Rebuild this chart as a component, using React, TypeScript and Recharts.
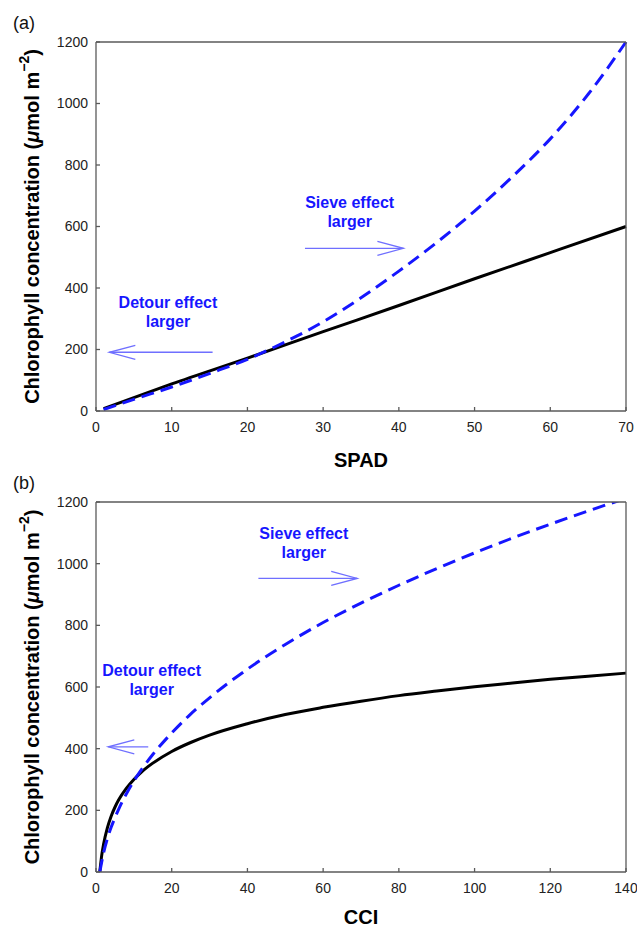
import React from 'react'
import { LineChart, Line, XAxis, YAxis, ReferenceLine, ReferenceDot, Label } from 'recharts'

const FONT = '"Liberation Sans", Arial, Helvetica, sans-serif'
const BLUE = '#1616ff'
const ARROW = '#6f6fff'
const AXIS = '#5a5a5a'

// shared y scale
const chlTicks = [0, 200, 400, 600, 800, 1000, 1200]

// (a) SPAD
const spadTicks = [0, 10, 20, 30, 40, 50, 60, 70]
const spadX = [1, 10, 20, 30, 40, 50, 60, 70]
const spadChl = [8, 88, 172, 258, 343, 430, 515, 600]
const spadBlueX = [1, 5, 10, 15, 20, 25, 30, 35, 40, 45, 50, 55, 60, 65, 70]
const spadBlueChl = [5, 38, 78, 122, 168, 225, 290, 368, 455, 548, 650, 762, 885, 1030, 1200]

// (b) CCI
const cciTicks = [0, 20, 40, 60, 80, 100, 120, 140]
const cciX = [1, 1.5, 2, 3, 4, 5, 6, 8, 10, 12, 15, 20, 25, 30, 40, 50, 60, 70, 80, 90, 100, 110, 120, 130, 140]
const cciChl = [0, 53, 90, 143, 181, 210, 234, 271, 300, 324, 353, 391, 420, 444, 481, 511, 534, 554, 572, 587, 601, 613, 625, 635, 645]
const cciBlueX = [1, 2, 3, 4, 5, 6, 8, 10, 12, 15, 20, 25, 30, 40, 50, 60, 70, 80, 90, 100, 110, 120, 130, 140]
const cciBlueChl = [0, 62, 108, 145, 176, 204, 253, 295, 332, 381, 451, 512, 565, 658, 738, 809, 872, 930, 984, 1035, 1083, 1128, 1171, 1212]

const zip = (xs: number[], ys: number[]) => xs.map((x, i) => ({ x, y: ys[i] }))

const arrowShape = (p: any) => {
  const { x1, y1, x2, y2 } = p
  const dir = x2 > x1 ? 1 : -1
  return (
    <g stroke={ARROW} strokeWidth={1.3} fill="none">
      <line x1={x1} y1={y1} x2={x2} y2={y2} />
      <polyline points={`${x2 - dir * 26},${y2 - 7} ${x2},${y2} ${x2 - dir * 26},${y2 + 7}`} />
    </g>
  )
}

const note = (first: string) => (p: any) => (
  <text x={p.cx} y={p.cy} textAnchor="middle" fontFamily={FONT} fontSize={16} fontWeight="bold" fill={BLUE}>
    <tspan x={p.cx} dy={-3}>{first}</tspan>
    <tspan x={p.cx} dy={19}>larger</tspan>
  </text>
)

const YTitle = ({ viewBox }: any) => {
  const cy = viewBox.y + viewBox.height / 2
  return (
    <text
      x={32}
      y={cy}
      transform={`rotate(-90 32 ${cy})`}
      textAnchor="middle"
      dominantBaseline="central"
      fontFamily={FONT}
      fontSize={20}
      fontWeight="bold"
      fill="#000"
    >
      Chlorophyll concentration (<tspan fontStyle="italic">μ</tspan>mol m
      <tspan dy={-8} fontSize={14}>−2</tspan>
      <tspan dy={8}>)</tspan>
    </text>
  )
}

interface PanelProps {
  height: number
  top: number
  bottom: number
  titleOffset: number
  xTicks: number[]
  xTitle: string
  black: { x: number; y: number }[]
  blue: { x: number; y: number }[]
  sieveText: [number, number]
  sieveArrow: [number, number, number]
  detourText: [number, number]
  detourArrow: [number, number, number]
}

function Panel(props: PanelProps) {
  const { height, top, bottom, titleOffset, xTicks, xTitle, black, blue } = props
  const { sieveText, sieveArrow, detourText, detourArrow } = props
  const xMax = xTicks[xTicks.length - 1]
  const tickStyle = { fontSize: 14, fill: '#222', fontFamily: FONT }
  const axisLine = { stroke: AXIS, strokeWidth: 1.3 }
  return (
    <LineChart width={637} height={height} margin={{ top, right: 10, bottom, left: 56 }}>
      <XAxis
        type="number"
        dataKey="x"
        domain={[0, xMax]}
        ticks={xTicks}
        tickSize={-4}
        tickMargin={15}
        height={30}
        tick={tickStyle}
        axisLine={axisLine}
        tickLine={axisLine}
      >
        <Label
          value={xTitle}
          position="bottom"
          offset={titleOffset}
          style={{ fontSize: 20, fontWeight: 'bold', fill: '#000', fontFamily: FONT }}
        />
      </XAxis>
      <XAxis
        xAxisId="top"
        orientation="top"
        type="number"
        dataKey="x"
        domain={[0, xMax]}
        ticks={xTicks}
        tickSize={-4}
        height={1}
        tick={false}
        axisLine={axisLine}
        tickLine={axisLine}
      />
      <YAxis
        type="number"
        domain={[0, 1200]}
        ticks={chlTicks}
        allowDataOverflow
        tickSize={-4}
        tickMargin={12}
        width={40}
        tick={tickStyle}
        axisLine={axisLine}
        tickLine={axisLine}
      >
        <Label content={<YTitle />} />
      </YAxis>
      <YAxis
        yAxisId="right"
        orientation="right"
        type="number"
        domain={[0, 1200]}
        ticks={chlTicks}
        tickSize={-4}
        width={1}
        tick={false}
        axisLine={axisLine}
        tickLine={axisLine}
      />
      <Line
        data={black}
        dataKey="y"
        type="monotone"
        stroke="#000"
        strokeWidth={3}
        dot={false}
        isAnimationActive={false}
      />
      <Line
        data={blue}
        dataKey="y"
        type="monotone"
        stroke={BLUE}
        strokeWidth={3}
        strokeDasharray="13 7"
        dot={false}
        isAnimationActive={false}
      />
      <ReferenceLine
        segment={[
          { x: sieveArrow[0], y: sieveArrow[2] },
          { x: sieveArrow[1], y: sieveArrow[2] },
        ]}
        shape={arrowShape}
      />
      <ReferenceLine
        segment={[
          { x: detourArrow[0], y: detourArrow[2] },
          { x: detourArrow[1], y: detourArrow[2] },
        ]}
        shape={arrowShape}
      />
      <ReferenceDot x={sieveText[0]} y={sieveText[1]} r={0} shape={note('Sieve effect')} />
      <ReferenceDot x={detourText[0]} y={detourText[1]} r={0} shape={note('Detour effect')} />
    </LineChart>
  )
}

export default function App() {
  const tag = { position: 'absolute' as const, left: 13, fontFamily: FONT, fontSize: 18, lineHeight: '18px', color: '#111' }
  return (
    <div style={{ position: 'relative', width: 637, height: 928, background: '#fff' }}>
      <style>{`body{margin:0}`}</style>
      <div style={{ position: 'absolute', top: 0, left: 0 }}>
        <Panel
          height={470}
          top={41}
          bottom={29}
          titleOffset={12}
          xTicks={spadTicks}
          xTitle="SPAD"
          black={zip(spadX, spadChl)}
          blue={zip(spadBlueX, spadBlueChl)}
          sieveText={[33.5, 650]}
          sieveArrow={[27.6, 40.6, 529]}
          detourText={[9.5, 325]}
          detourArrow={[15.4, 1.76, 191]}
        />
      </div>
      <div style={{ position: 'absolute', top: 470, left: 0 }}>
        <Panel
          height={458}
          top={31}
          bottom={26}
          titleOffset={8}
          xTicks={cciTicks}
          xTitle="CCI"
          black={zip(cciX, cciChl)}
          blue={zip(cciBlueX, cciBlueChl)}
          sieveText={[54.9, 1070]}
          sieveArrow={[42.9, 69.0, 952]}
          detourText={[14.7, 625]}
          detourArrow={[13.8, 3.25, 406]}
        />
      </div>
      <div style={{ ...tag, top: 14 }}>(a)</div>
      <div style={{ ...tag, top: 474 }}>(b)</div>
    </div>
  )
}
